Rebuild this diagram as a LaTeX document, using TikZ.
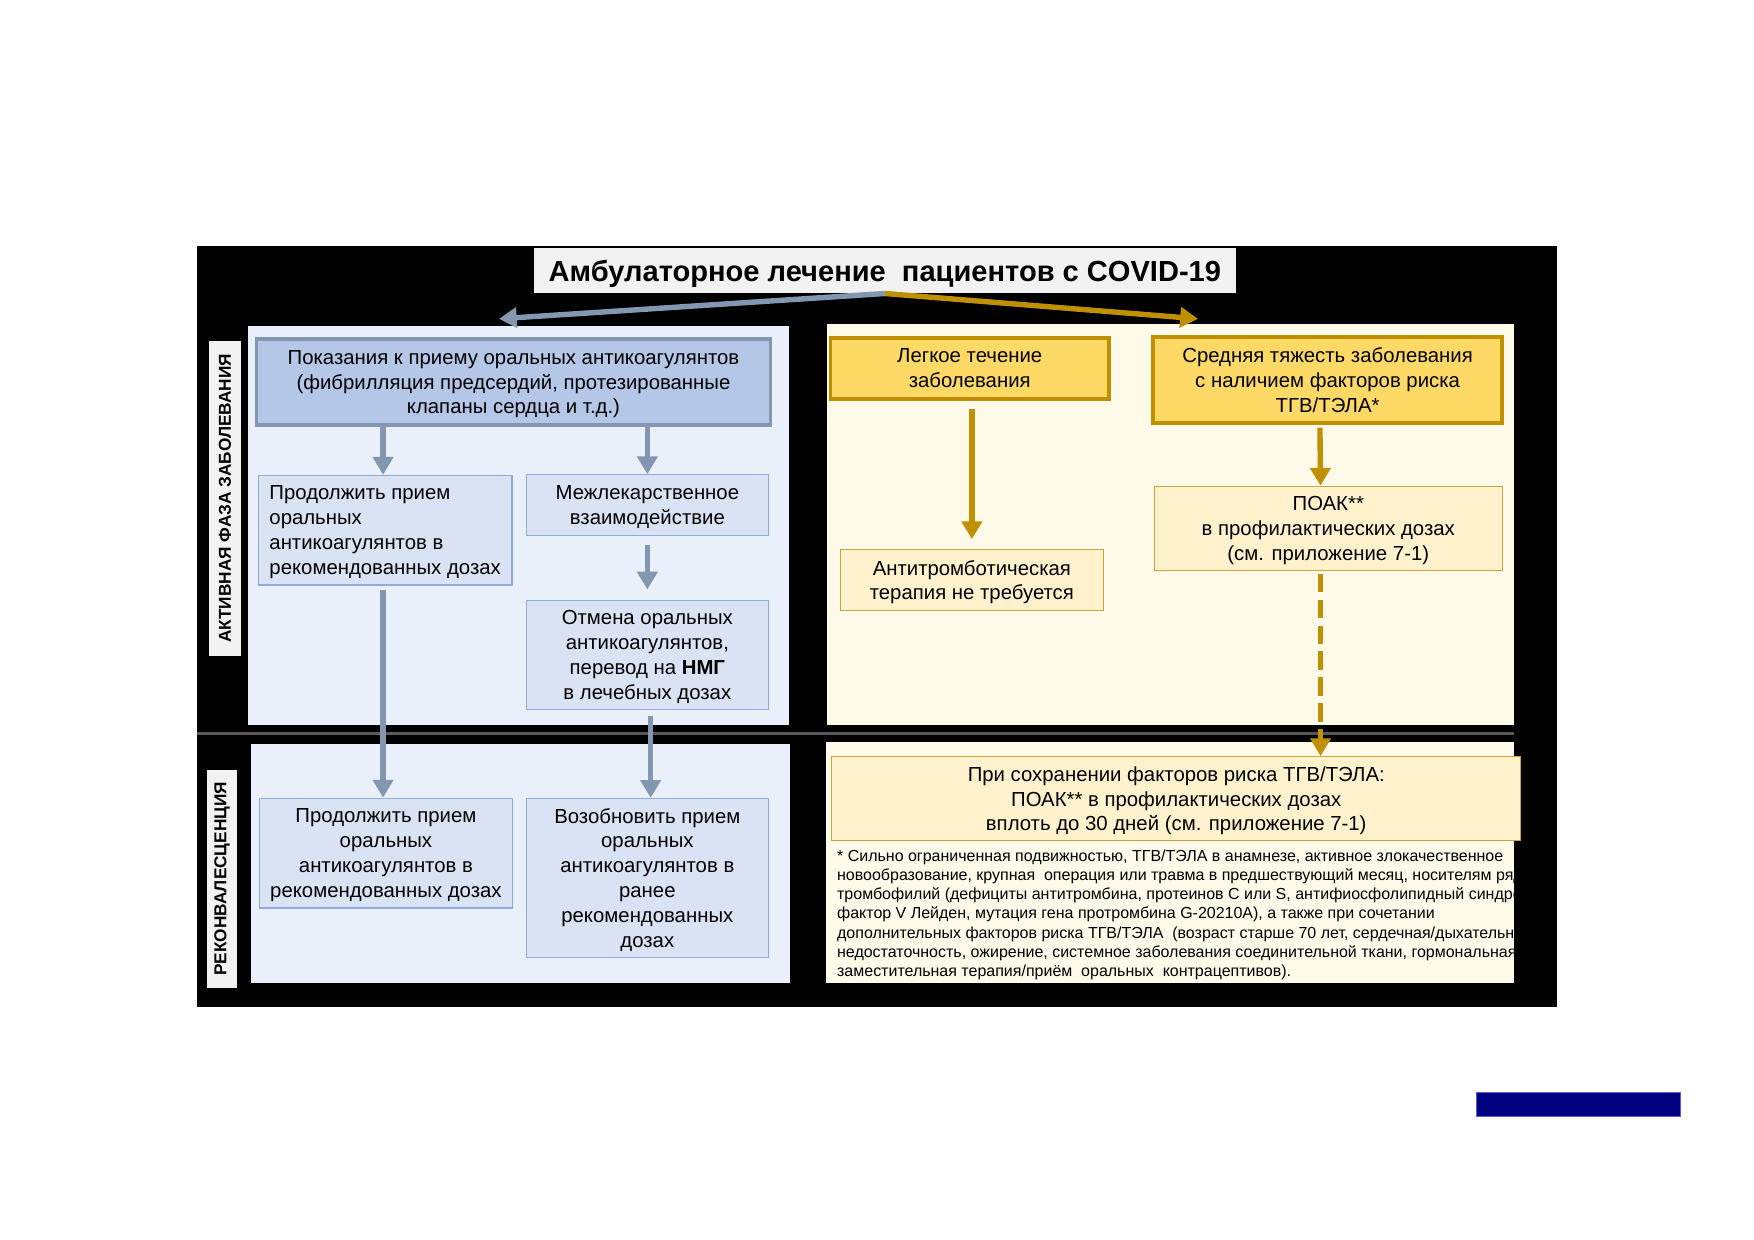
\documentclass[tikz,border=0pt]{standalone}
\usepackage{fontspec}
\setmainfont{Liberation Sans}
\usepackage{tikz}
\usetikzlibrary{arrows.meta}
\definecolor{panelblue}{RGB}{234,240,249}
\definecolor{boxblue}{RGB}{218,227,243}
\definecolor{headblue}{RGB}{180,199,231}
\definecolor{lineblue}{RGB}{143,170,220}
\definecolor{arrowblue}{RGB}{132,151,176}
\definecolor{panelcream}{RGB}{255,250,234}
\definecolor{boxyellow}{RGB}{255,242,204}
\definecolor{headyellow}{RGB}{255,217,102}
\definecolor{gold}{RGB}{191,144,0}
\definecolor{labelgray}{RGB}{242,242,242}
\definecolor{dividergray}{RGB}{89,89,89}
\definecolor{navybar}{RGB}{0,0,128}
\newcommand{\pxs}{0.018941cm}

\begin{document}
\begin{tikzpicture}[x=0.018941cm,y=-0.018941cm,
  font=\fontsize{9.8}{12}\selectfont,
  sidelabel/.style={fill=labelgray,rotate=90,inner sep=0pt,font=\fontsize{8.3}{10}\selectfont\bfseries},
  bluehead/.style={fill=headblue,draw=arrowblue,line width=1.6pt,align=center,inner sep=2pt,text depth=0pt},
  bluebox/.style={fill=boxblue,draw=lineblue,line width=0.6pt,align=center,inner sep=2pt,text depth=0pt},
  yellowhead/.style={fill=headyellow,draw=gold,line width=1.9pt,align=center,inner sep=2pt,text depth=0pt},
  yellowbox/.style={fill=boxyellow,draw=gold!80,line width=0.6pt,align=center,inner sep=2pt,text depth=0pt},
  bluearrow/.style={draw=arrowblue,line width=2.6pt,-{Triangle[width=9.6pt,length=8.6pt]}},
  goldarrow/.style={draw=gold,line width=2.6pt,-{Triangle[width=9.6pt,length=8.6pt]}}]
\useasboundingbox (0,0) rectangle (1568,1108);
\fill[black] (176,220) rectangle (1392,900);
\fill[panelblue] (222,291) rectangle (705,648);
\fill[panelcream] (739,290) rectangle (1353,648);
\draw[dividergray,line width=1.6pt] (176,656) -- (1353,656);
\fill[panelblue] (224,665) rectangle (706,879);
\fill[panelcream] (738,663) rectangle (1353,879);
\fill[navybar,draw={rgb,255:red,90;green,90;blue,220},line width=0.4pt] (1320,977) rectangle (1502,998);

\node[fill=labelgray,minimum width=628*\pxs,minimum height=40*\pxs,text depth=0pt,font=\fontsize{14}{16}\selectfont\bfseries] (title) at (791,242) {Амбулаторное лечение\ \ пациентов с COVID-19};
\node[sidelabel,minimum width=282*\pxs,minimum height=28*\pxs] (activelabel) at (201,445.6) {АКТИВНАЯ ФАЗА ЗАБОЛЕВАНИЯ};
\node[sidelabel,minimum width=195*\pxs,minimum height=27*\pxs] (convlabel) at (198.5,785.7) {РЕКОНВАЛЕСЦЕНЦИЯ};

\node[bluehead,minimum width=460*\pxs,minimum height=77*\pxs] (indic) at (459,341.5) {Показания к приему оральных антикоагулянтов\\(фибрилляция предсердий, протезированные\\клапаны сердца и т.д.)};
\node[bluebox,align=left,minimum width=227*\pxs,minimum height=98*\pxs] (cont) at (344.3,474) {Продолжить прием\\оральных\\антикоагулянтов в\\рекомендованных дозах};
\node[bluebox,minimum width=216*\pxs,minimum height=54*\pxs] (inter) at (578.7,451.5) {Межлекарственное\\взаимодействие};
\node[bluebox,minimum width=216*\pxs,minimum height=98*\pxs] (cancel) at (578.7,585.5) {Отмена оральных\\антикоагулянтов,\\перевод на \textbf{НМГ}\\в лечебных дозах};
\node[bluebox,minimum width=226*\pxs,minimum height=98*\pxs] (cont2) at (345,762.6) {Продолжить прием\\оральных\\антикоагулянтов в\\рекомендованных дозах};
\node[bluebox,minimum width=216*\pxs,minimum height=142*\pxs] (resume) at (578.7,784.8) {Возобновить прием\\оральных\\антикоагулянтов в\\ранее\\рекомендованных\\дозах};

\node[yellowhead,minimum width=249*\pxs,minimum height=55*\pxs] (mild) at (866.9,329.3) {Легкое течение\\заболевания};
\node[yellowbox,minimum width=235*\pxs,minimum height=54*\pxs] (notneed) at (868.8,518.5) {Антитромботическая\\терапия не требуется};
\node[yellowhead,minimum width=312*\pxs,minimum height=77*\pxs] (moder) at (1186.8,339.7) {Средняя тяжесть заболевания\\с наличием факторов риска\\ТГВ/ТЭЛА*};
\node[yellowbox,minimum width=311*\pxs,minimum height=75*\pxs] (poak) at (1187.4,472.3) {ПОАК**\\в профилактических дозах\\(см. приложение 7-1)};
\node[yellowbox,minimum width=616*\pxs,minimum height=75*\pxs] (keep) at (1051.5,714) {При сохранении факторов риска ТГВ/ТЭЛА:\\ПОАК** в профилактических дозах\\вплоть до 30 дней (см. приложение 7-1)};

\begin{scope}
\clip (738,663) rectangle (1353,879);
\node[anchor=north west,align=left,inner sep=0pt,font=\fontsize{7.7}{9.2}\selectfont] (note) at (748,759.5) {* Сильно ограниченная подвижностью, ТГВ/ТЭЛА в анамнезе, активное злокачественное\\новообразование, крупная\ \ операция или травма в предшествующий месяц, носителям ряда\\тромбофилий (дефициты антитромбина, протеинов С или S, антифиосфолипидный синдром,\\фактор V Лейден, мутация гена протромбина G-20210A), а также при сочетании\\дополнительных факторов риска ТГВ/ТЭЛА\ \ (возраст старше 70 лет, сердечная/дыхательная\\недостаточность, ожирение, системное заболевания соединительной ткани, гормональная\\заместительная терапия/приём\ \ оральных\ \ контрацептивов).};
\end{scope}

\coordinate (lefthead) at (446,285);
\coordinate (righthead) at (1071,285);
\coordinate (contout) at ([xshift=-1pt]cont.south);
\coordinate (cancelout) at ([xshift=1.6pt]cancel.south);
\coordinate (poakout) at ([xshift=-3.7pt]poak.south);
\draw[goldarrow] (title.south) -- (righthead);
\draw[bluearrow] (title.south) -- (lefthead);
\draw[bluearrow] (indic.south -| contout) -- (contout |- cont.north);
\draw[bluearrow] (indic.south -| inter.north) -- (inter.north);
\draw[bluearrow,shorten <=4.3pt,shorten >=4.8pt] (inter.south) -- (cancel.north);
\draw[bluearrow,shorten <=2pt] (contout) -- (contout |- cont2.north);
\draw[bluearrow,shorten <=2.8pt] (cancelout) -- (cancelout |- resume.north);
\draw[goldarrow,shorten <=3.8pt,shorten >=4.8pt] (notneed.north |- mild.south) -- (notneed.north);
\draw[goldarrow,shorten <=1.3pt] ([xshift=-3.7pt]moder.south) -- ([xshift=-3.7pt]poak.north);
\draw[goldarrow,dash pattern=on 9pt off 3.5pt,shorten <=1.3pt] (poakout) -- (poakout |- keep.north);
\end{tikzpicture}
\end{document}
